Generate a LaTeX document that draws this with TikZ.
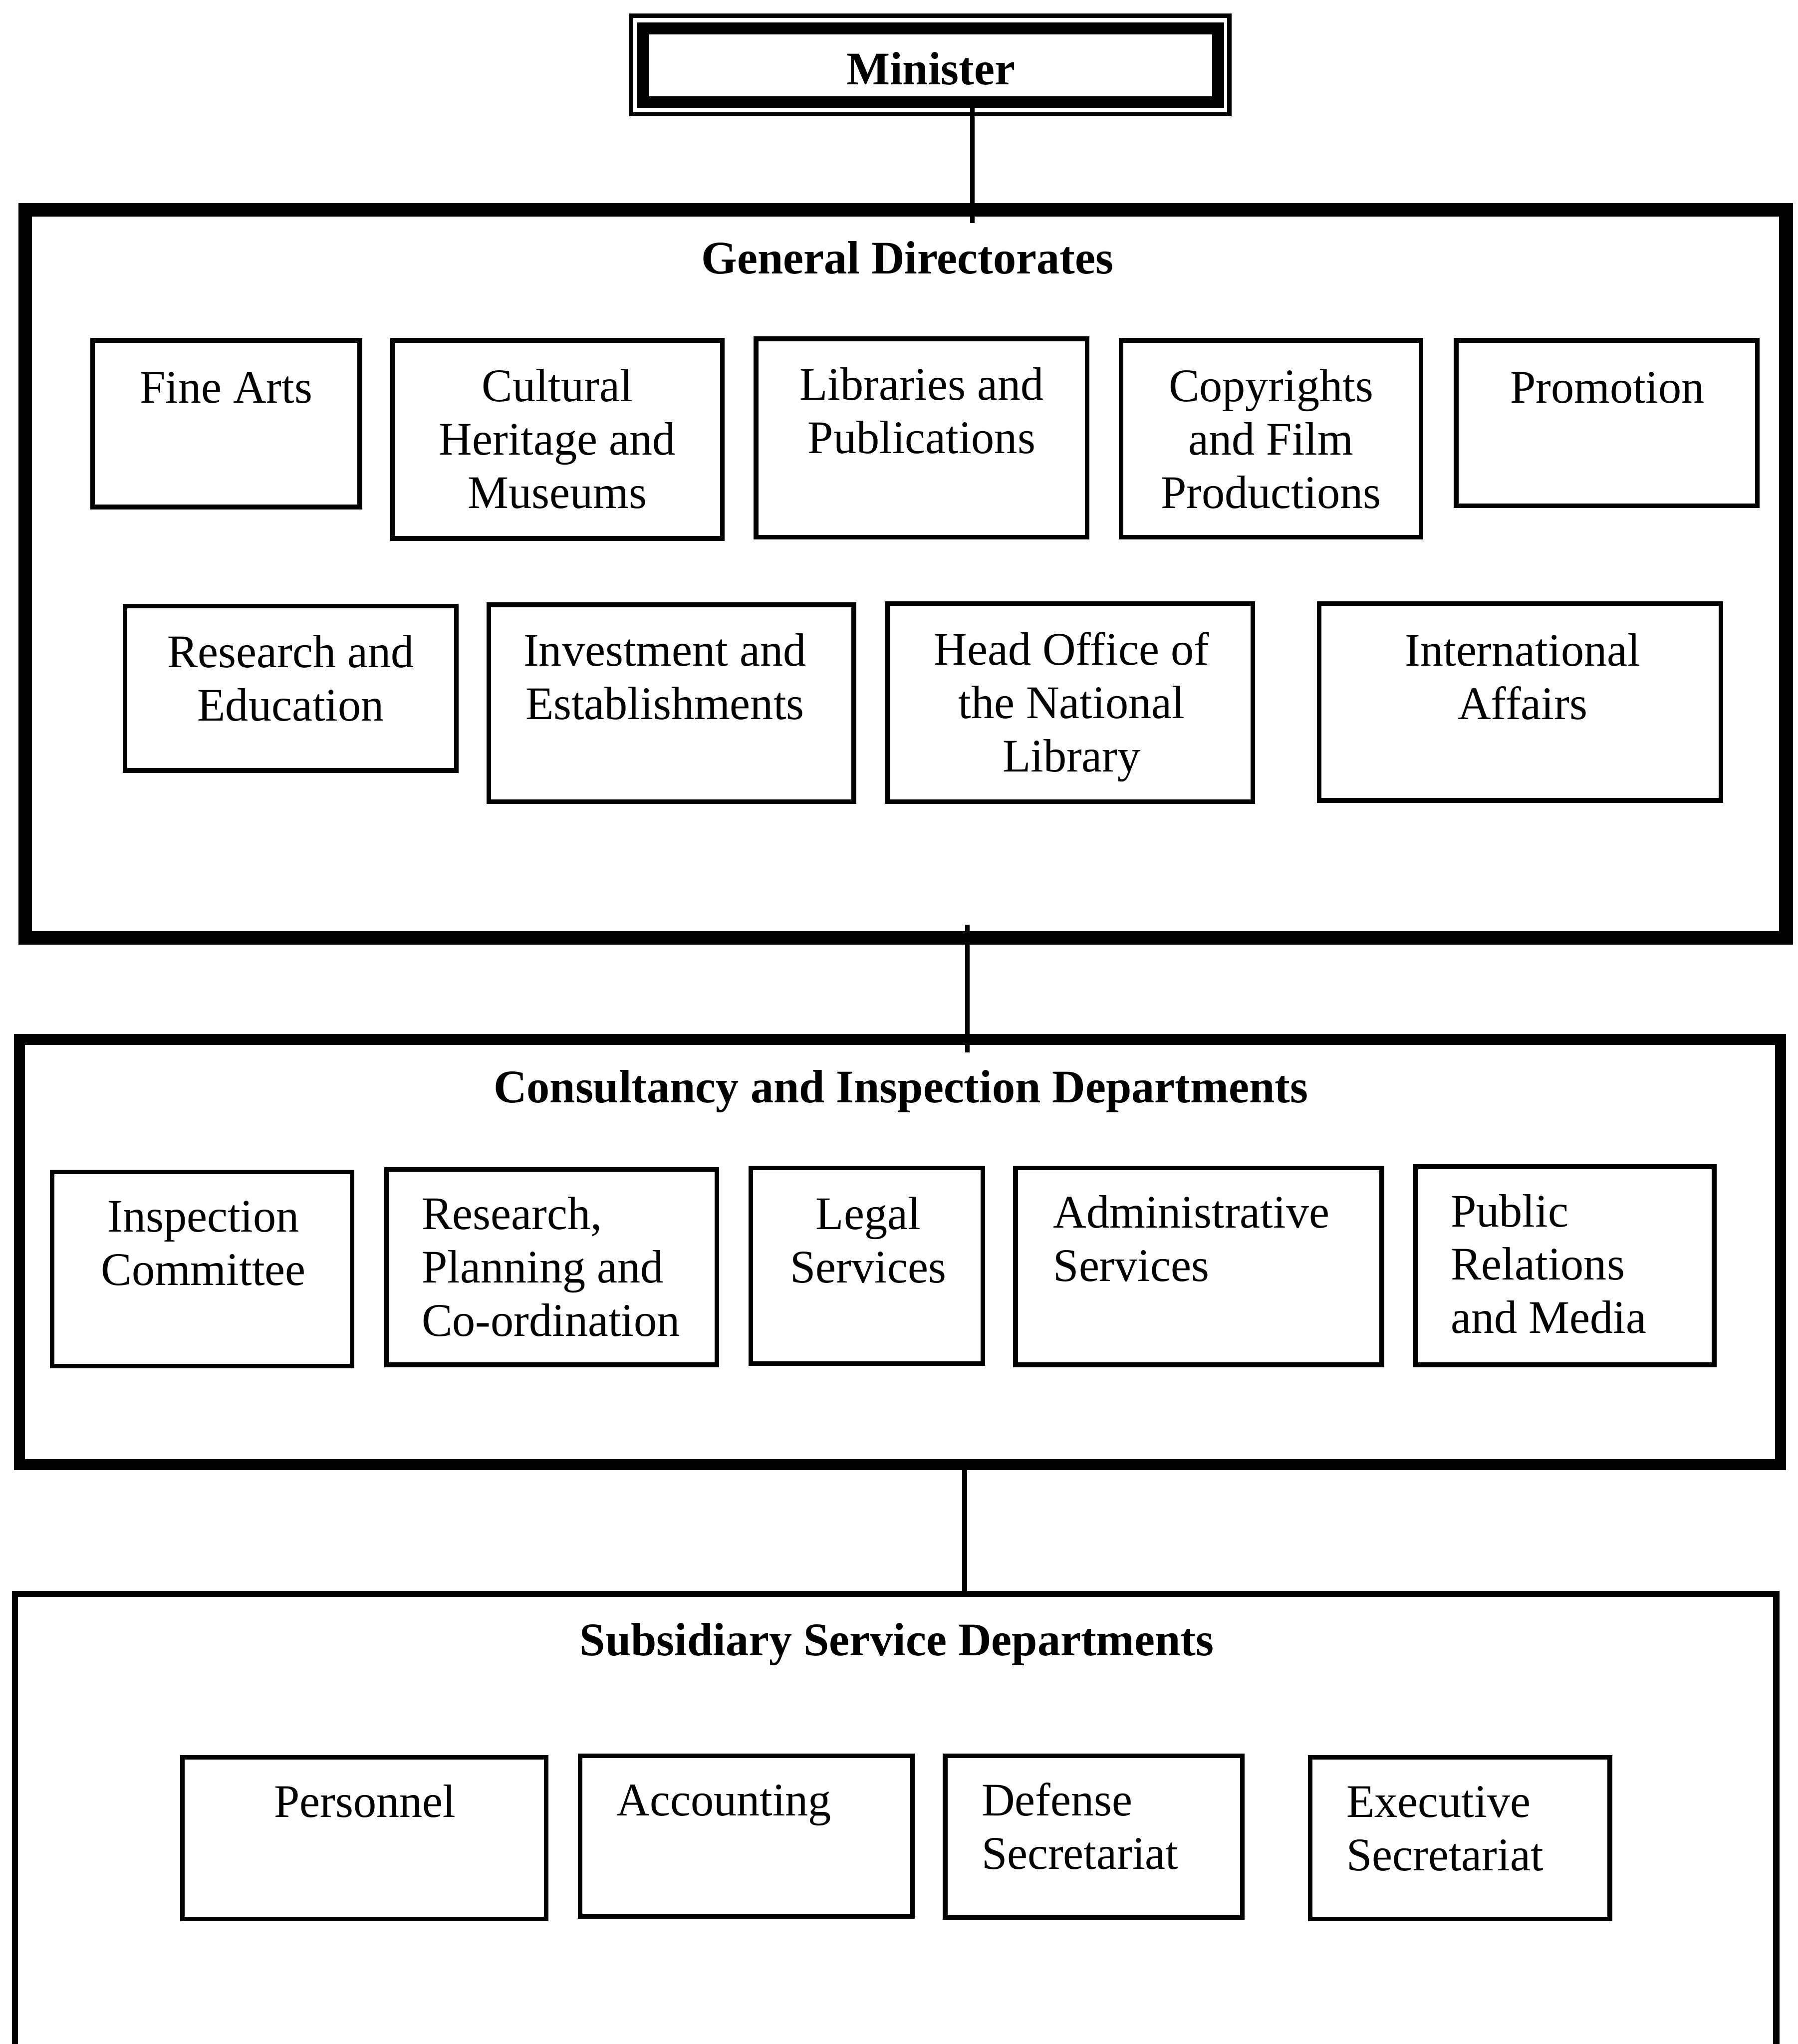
\documentclass[tikz,border=0pt]{standalone}
\usepackage{fontspec}
\setmainfont[FakeStretch=0.985]{Liberation Serif}
\usetikzlibrary{fit,calc}
\newcommand{\chartsize}{\fontsize{20.4pt}{23.3pt}\selectfont}
\begin{document}
\begin{tikzpicture}[x=0.02cm,y=-0.02cm,
  unitbox/.style={draw, line width=2.05pt, inner sep=0pt, outer sep=0pt},
  panel/.style={draw, inner sep=0pt, outer sep=0pt},
  lbl/.style={font=\chartsize, inner sep=0pt, outer sep=0pt, align=center, anchor=north},
  lbll/.style={lbl, align=left, anchor=north west},
  head/.style={font=\chartsize\bfseries, inner sep=0pt, outer sep=0pt, anchor=base},
  link/.style={line width=2pt},
]
% page
\path[use as bounding box, fill=white] (0,0) rectangle (1379,1568);
\clip (0,0) rectangle (1379,1568);

% ---------------- Minister ----------------
\node[panel, line width=1.9pt, fit={(484.3,12.1) (943,87.7)}] (minframe) {};
\node[panel, line width=5.1pt, fit={(493.5,21.8) (934.5,78.2)}] (min) {};
\node[head] (mint) at (714,65) {Minister};

% ---------------- General Directorates ----------------
\node[panel, line width=6pt, fit={(19.3,161) (1370,719.5)}] (gd) {};
\node[head] (gdt) at (696,210) {General Directorates};

\node[unitbox, fit={(71,261) (276,389)}] (fa) {};
\node[lbl] (fat) at (173.5,280.3) {\strut Fine Arts};
\node[unitbox, fit={(301,261) (554,413)}] (chm) {};
\node[lbl] (chmt) at (427.5,279.3) {\strut Cultural\\Heritage and\\Museums};
\node[unitbox, fit={(580,260) (834,412)}] (lp) {};
\node[lbl] (lpt) at (707,278.3) {\strut Libraries and\\Publications};
\node[unitbox, fit={(860,261) (1090,412)}] (cfp) {};
\node[lbl] (cfpt) at (975,279.3) {\strut Copyrights\\and Film\\Productions};
\node[unitbox, fit={(1117,261) (1348,388)}] (pro) {};
\node[lbl] (prot) at (1233,280.3) {\strut Promotion};

\node[unitbox, fit={(96,465) (350,591)}] (re) {};
\node[lbl] (ret) at (223,483.3) {\strut Research and\\Education};
\node[unitbox, fit={(375,464) (655,615)}] (ie) {};
\node[lbl] (iet) at (510,482.3) {\strut Investment and\\Establishments};
\node[unitbox, fit={(681,463) (961,615)}] (ho) {};
\node[lbl] (hot) at (822,481.3) {\strut Head Office of\\the National\\Library};
\node[unitbox, fit={(1012,463) (1320,614)}] (ia) {};
\node[lbl] (iat) at (1168,482.3) {\strut International\\Affairs};

% ---------------- Consultancy and Inspection ----------------
\node[panel, line width=4.8pt, fit={(14.8,797.5) (1365.7,1123.5)}] (cid) {};
\node[head] (cidt) at (691,846) {Consultancy and Inspection Departments};

\node[unitbox, fit={(40,899) (270,1048)}] (ic) {};
\node[lbl] (ict) at (156,916.3) {\strut Inspection\\Committee};
\node[unitbox, fit={(296.5,897) (550,1047)}] (rpc) {};
\node[lbll] (rpct) at (323.6,914.3) {\strut Research,\\Planning and\\Co-ordination};
\node[unitbox, fit={(576,896) (754,1046)}] (ls) {};
\node[lbl] (lst) at (666,914.3) {\strut Legal\\Services};
\node[unitbox, fit={(779,896) (1060,1047)}] (as) {};
\node[lbll] (ast) at (808,913.3) {\strut Administrative\\Services};
\node[unitbox, fit={(1086,895) (1315,1047)}] (prm) {};
\node[lbll] (prmt) at (1113,912.3) {\strut Public\\Relations\\and Media};

% ---------------- Subsidiary Service ----------------
\node[panel, line width=2.7pt, fit={(11.5,1222.8) (1362.6,1620)}] (ssd) {};
\node[head] (ssdt) at (688,1270) {Subsidiary Service Departments};

\node[unitbox, fit={(140,1348) (419,1472)}] (per) {};
\node[lbl] (pert) at (280,1365.3) {\strut Personnel};
\node[unitbox, fit={(445,1347) (700,1470)}] (acc) {};
\node[lbll] (acct) at (473,1364.3) {\strut Accounting};
\node[unitbox, fit={(725,1347) (953,1471)}] (ds) {};
\node[lbll] (dst) at (753,1364.3) {\strut Defense\\Secretariat};
\node[unitbox, fit={(1005,1348) (1235,1472)}] (es) {};
\node[lbll] (est) at (1033,1365.3) {\strut Executive\\Secretariat};

% ---------------- connectors ----------------
\coordinate (k1) at (746,0);
\coordinate (k2) at (742,0);
\coordinate (k3) at (740,0);
\draw[link, shorten >=-0.2cm] (min.south -| k1) -- (gd.north -| k1);
\draw[link, shorten <=-0.2cm, shorten >=-0.2cm] (gd.south -| k2) -- (cid.north -| k2);
\draw[link] (cid.south -| k3) -- (ssd.north -| k3);
\end{tikzpicture}
\end{document}
